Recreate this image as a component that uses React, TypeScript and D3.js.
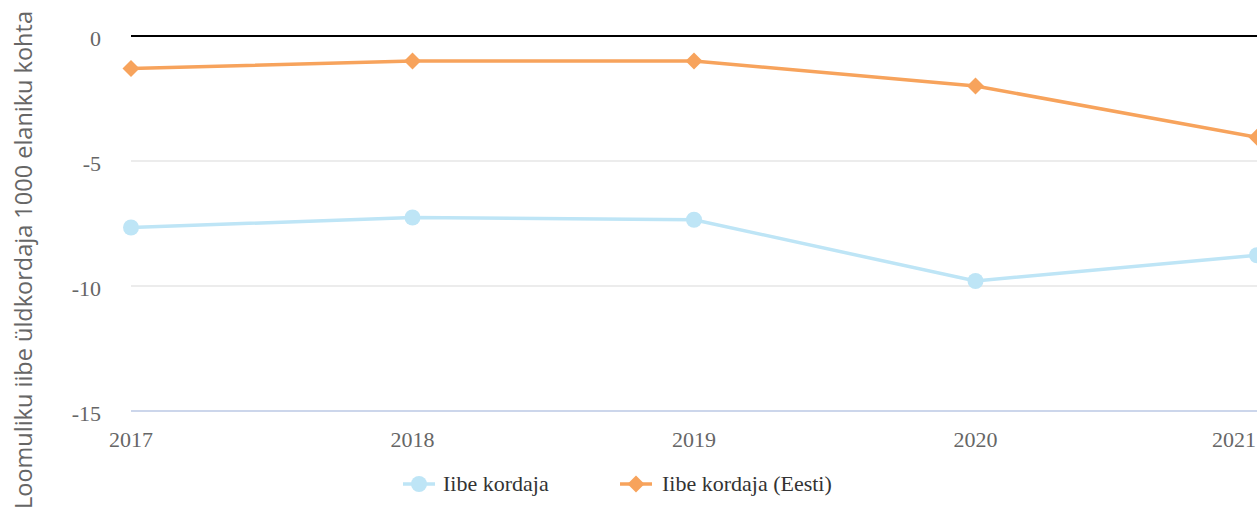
import React from 'react'
import * as d3 from 'd3'

const YEARS = ['2017', '2018', '2019', '2020', '2021']
const IIBE = [-7.66, -7.26, -7.35, -9.8, -8.77]
const IIBE_EESTI = [-1.3, -1.0, -1.0, -2.0, -4.05]
const Y_TICKS = [0, -5, -10, -15]
const Y_TITLE = 'Loomuliku iibe üldkordaja 1000 elaniku kohta'
const SERIES_NAMES = ['Iibe kordaja', 'Iibe kordaja (Eesti)']

const W = 1257
const H = 515
const BLUE = '#bee5f6'
const ORANGE = '#f7a35c'
const SERIF = '"Liberation Serif", "Times New Roman", serif'

export default function App() {
  const x = d3.scalePoint<string>().domain(YEARS).range([131, 1257])
  const y = d3.scaleLinear().domain([-15, 0]).range([411, 36])

  const line = d3
    .line<number>()
    .x((_, i) => x(YEARS[i]) as number)
    .y((d) => y(d))

  const diamond = (cx: number, cy: number, r: number) =>
    `M${cx},${cy - r}L${cx + r},${cy}L${cx},${cy + r}L${cx - r},${cy}Z`

  return (
    <svg
      width={W}
      height={H}
      style={{ position: 'absolute', left: 0, top: 0, background: '#fff' }}
    >
      {/* grid */}
      {Y_TICKS.map((t) => (
        <line
          key={t}
          x1={131}
          x2={W}
          y1={y(t)}
          y2={y(t)}
          stroke={t === 0 ? '#000' : t === -15 ? '#ccd6eb' : '#e6e6e6'}
          strokeWidth={t === 0 ? 2 : t === -15 ? 2 : 1.5}
        />
      ))}

      {/* y labels */}
      {Y_TICKS.map((t) => (
        <text
          key={t}
          x={101}
          y={y(t) + 9.5}
          textAnchor="end"
          fontFamily={SERIF}
          fontSize={22}
          fill="#666"
        >
          {t}
        </text>
      ))}

      <text
        transform={`translate(32,260) rotate(-90)`}
        textAnchor="middle"
        fontFamily='"Open Sans", sans-serif'
        fontSize={23.5}
        fill="#666"
      >
        {Y_TITLE}
      </text>

      {/* x labels */}
      {YEARS.map((yr, i) => (
        <text
          key={yr}
          x={i === YEARS.length - 1 ? W - 1 : (x(yr) as number)}
          y={447}
          textAnchor={i === YEARS.length - 1 ? 'end' : 'middle'}
          fontFamily={SERIF}
          fontSize={22}
          fill="#666"
        >
          {yr}
        </text>
      ))}

      {/* series */}
      <path d={line(IIBE) || ''} fill="none" stroke={BLUE} strokeWidth={3.5} />
      {IIBE.map((v, i) => (
        <circle key={i} cx={x(YEARS[i])} cy={y(v)} r={8} fill={BLUE} />
      ))}
      <path d={line(IIBE_EESTI) || ''} fill="none" stroke={ORANGE} strokeWidth={3.5} />
      {IIBE_EESTI.map((v, i) => (
        <path key={i} d={diamond(x(YEARS[i]) as number, y(v), 8.5)} fill={ORANGE} />
      ))}

      {/* legend */}
      <g transform="translate(403,484)">
        <line x1={0} x2={32} y1={0} y2={0} stroke={BLUE} strokeWidth={3.5} />
        <circle cx={16} cy={0} r={8} fill={BLUE} />
        <text x={40} y={7} fontFamily={SERIF} fontSize={22} fill="#333">
          {SERIES_NAMES[0]}
        </text>
      </g>
      <g transform="translate(620,484)">
        <line x1={0} x2={32} y1={0} y2={0} stroke={ORANGE} strokeWidth={3.5} />
        <path d={diamond(16, 0, 8.5)} fill={ORANGE} />
        <text x={42} y={7} fontFamily={SERIF} fontSize={22} fill="#333">
          {SERIES_NAMES[1]}
        </text>
      </g>
    </svg>
  )
}
